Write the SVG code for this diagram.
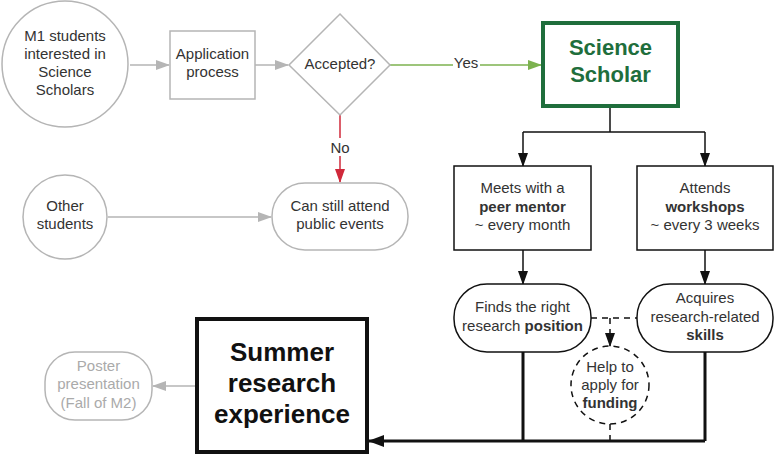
<svg xmlns="http://www.w3.org/2000/svg" width="774" height="456" viewBox="0 0 774 456">
<style>
text{font-family:"Liberation Sans",Arial,sans-serif;font-size:15px;fill:#333;text-anchor:middle}
.g{fill:#fff;stroke:#b5b5b5;stroke-width:1.5}
.k{fill:#fff;stroke:#111;stroke-width:1.5}
.b{font-weight:bold}
.gl{stroke:#b5b5b5;stroke-width:1.5;fill:none}
.kl{stroke:#111;stroke-width:1.5;fill:none}
.kt{stroke:#111;stroke-width:3;fill:none}
.dash{stroke:#111;stroke-width:1.5;fill:none;stroke-dasharray:6 5}
</style>
<defs>
<marker id="ag" markerWidth="14" markerHeight="10" refX="13" refY="5" orient="auto" markerUnits="userSpaceOnUse"><path d="M0,0L14,5L0,10z" fill="#b5b5b5"/></marker>
<marker id="ar" markerWidth="14" markerHeight="10" refX="13" refY="5" orient="auto" markerUnits="userSpaceOnUse"><path d="M0,0L14,5L0,10z" fill="#d0283a"/></marker>
<marker id="agr" markerWidth="14" markerHeight="10" refX="13" refY="5" orient="auto" markerUnits="userSpaceOnUse"><path d="M0,0L14,5L0,10z" fill="#7cb24f"/></marker>
<marker id="ak" markerWidth="14" markerHeight="10" refX="13" refY="5" orient="auto" markerUnits="userSpaceOnUse"><path d="M0,0L14,5L0,10z" fill="#111"/></marker>
<marker id="akt" markerWidth="16" markerHeight="12" refX="15" refY="6" orient="auto" markerUnits="userSpaceOnUse"><path d="M0,0L16,6L0,12z" fill="#111"/></marker>
</defs>
<rect width="774" height="456" fill="#fff"/>
<g id="connectors">
<line class="gl" x1="130" y1="65" x2="169" y2="65" marker-end="url(#ag)"/>
<line class="gl" x1="255" y1="65" x2="288" y2="65" marker-end="url(#ag)"/>
<line x1="390" y1="65" x2="541" y2="65" stroke="#7cb24f" stroke-width="1.5" marker-end="url(#agr)"/>
<rect x="453" y="56" width="27" height="16" fill="#fff"/>
<text x="466" y="68">Yes</text>
<line x1="340" y1="115" x2="340" y2="182" stroke="#d0283a" stroke-width="1.5" marker-end="url(#ar)"/>
<rect x="328" y="138" width="24" height="18" fill="#fff"/>
<text x="340" y="153">No</text>
<line class="gl" x1="108" y1="217" x2="271" y2="217" marker-end="url(#ag)"/>
<path class="kl" d="M610,107V132M523,132H705"/>
<line class="kl" x1="523" y1="132" x2="523" y2="166" marker-end="url(#ak)"/>
<line class="kl" x1="705" y1="132" x2="705" y2="166" marker-end="url(#ak)"/>
<line class="kl" x1="523" y1="250" x2="523" y2="284" marker-end="url(#ak)"/>
<line class="kl" x1="705" y1="250" x2="705" y2="284" marker-end="url(#ak)"/>
<line class="dash" x1="591" y1="318" x2="637" y2="318"/>
<line class="dash" x1="610" y1="318" x2="610" y2="346" marker-end="url(#ak)"/>
<line class="dash" x1="610" y1="424" x2="610" y2="441"/>
<path class="kt" d="M523,352V441M705,352V441"/>
<line class="kt" x1="705" y1="441" x2="369" y2="441" marker-end="url(#akt)"/>
<line class="gl" x1="195" y1="386" x2="153" y2="386" marker-end="url(#ag)"/>
</g>
<g id="m1">
<circle class="g" cx="65" cy="64" r="63"/>
<text x="65" y="41">M1 students</text>
<text x="65" y="59">interested in</text>
<text x="65" y="77">Science</text>
<text x="65" y="95">Scholars</text>
</g>
<g id="application">
<rect class="g" x="170" y="31" width="85" height="68"/>
<text x="212.5" y="59">Application</text>
<text x="212.5" y="77">process</text>
</g>
<g id="accepted">
<path class="g" d="M340,14L390,65L340,115L289,65z"/>
<text x="340" y="69">Accepted?</text>
</g>
<g id="other">
<circle class="g" cx="65" cy="217" r="42"/>
<text x="65" y="211">Other</text>
<text x="65" y="229">students</text>
</g>
<g id="public">
<rect class="g" x="272" y="183" width="136" height="67" rx="33" ry="33"/>
<text x="340" y="211">Can still attend</text>
<text x="340" y="229">public events</text>
</g>
<g id="scholar">
<rect x="543" y="23" width="135" height="83" fill="#fff" stroke="#1f6e3c" stroke-width="4"/>
<text x="610.5" y="55" class="b" style="font-size:22px;fill:#1f6e3c">Science</text>
<text x="610.5" y="82" class="b" style="font-size:22px;fill:#1f6e3c">Scholar</text>
</g>
<g id="mentor">
<rect class="k" x="454" y="166" width="137" height="84"/>
<text x="522.5" y="193">Meets with a</text>
<text x="522.5" y="212" class="b">peer mentor</text>
<text x="522.5" y="230">~ every month</text>
</g>
<g id="workshops">
<rect class="k" x="637" y="166" width="136" height="84"/>
<text x="705" y="193">Attends</text>
<text x="705" y="212" class="b">workshops</text>
<text x="705" y="230">~ every 3 weeks</text>
</g>
<g id="position">
<rect class="k" x="454" y="284" width="137" height="68" rx="33" ry="33"/>
<text x="522.5" y="312">Finds the right</text>
<text x="522.5" y="331">research <tspan class="b">position</tspan></text>
</g>
<g id="skills">
<rect class="k" x="637" y="284" width="136" height="68" rx="33" ry="33"/>
<text x="705" y="303">Acquires</text>
<text x="705" y="322">research-related</text>
<text x="705" y="340" class="b">skills</text>
</g>
<g id="funding">
<circle cx="610" cy="385" r="39" fill="#fff" class="dash"/>
<text x="610" y="372">Help to</text>
<text x="610" y="390">apply for</text>
<text x="610" y="408" class="b">funding</text>
</g>
<g id="summer">
<rect x="197" y="319" width="170" height="133" fill="#fff" stroke="#111" stroke-width="4"/>
<text x="282" y="361" class="b" style="font-size:26px;fill:#111">Summer</text>
<text x="282" y="392" class="b" style="font-size:26px;fill:#111">research</text>
<text x="282" y="423" class="b" style="font-size:26px;fill:#111">experience</text>
</g>
<g id="poster">
<rect class="g" x="45" y="352" width="107" height="68" rx="30" ry="30"/>
<text x="98.5" y="371" style="fill:#aaa">Poster</text>
<text x="98.5" y="389" style="fill:#aaa">presentation</text>
<text x="98.5" y="408" style="fill:#aaa">(Fall of M2)</text>
</g>
</svg>
